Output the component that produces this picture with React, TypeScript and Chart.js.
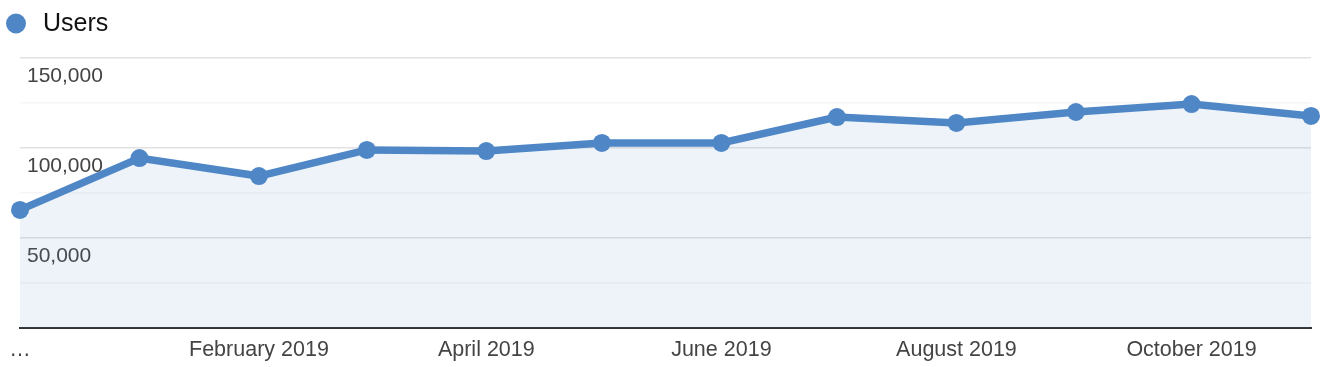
import React, { useEffect, useRef } from "react";
import { Chart, registerables } from "chart.js";

Chart.register(...registerables);

const months = [
  "December 2018",
  "January 2019",
  "February 2019",
  "March 2019",
  "April 2019",
  "May 2019",
  "June 2019",
  "July 2019",
  "August 2019",
  "September 2019",
  "October 2019",
  "November 2019",
];

// first-of-month dates, [year, monthIndex]
const monthStarts: [number, number][] = [
  [2018, 11], [2019, 0], [2019, 1], [2019, 2], [2019, 3], [2019, 4],
  [2019, 5], [2019, 6], [2019, 7], [2019, 8], [2019, 9], [2019, 10],
];

const users = [65600, 94400, 84400, 98900, 98300, 102800, 102800, 117200, 113900, 120000, 124400, 117800];

const seriesLabel = "Users";
const yTickValues = [50000, 100000, 150000];

const LINE = "#4f87c6";
const FILL = "rgba(79,135,198,0.1)";
const FONT = "'Liberation Sans', Arial, sans-serif";

const DAY = 86400000;
const base = Date.UTC(monthStarts[0][0], monthStarts[0][1], 1);
const dayPos = monthStarts.map(([y, m]) => Math.round((Date.UTC(y, m, 1) - base) / DAY));

const legendPlugin = {
  id: "customLegend",
  afterDraw(chart: any) {
    const ctx = chart.ctx;
    const ds = chart.data.datasets[0];
    ctx.save();
    ctx.fillStyle = LINE;
    ctx.beginPath();
    ctx.arc(16, 23.5, 10, 0, Math.PI * 2);
    ctx.fill();
    ctx.fillStyle = "#111";
    ctx.font = `25px ${FONT}`;
    ctx.textBaseline = "middle";
    ctx.textAlign = "left";
    ctx.fillText(ds.label, 43, 24);
    ctx.restore();
  },
};

export default function App() {
  const ref = useRef<HTMLCanvasElement | null>(null);

  useEffect(() => {
    if (!ref.current) return;
    const chart = new Chart(ref.current, {
      type: "line",
      data: {
        datasets: [
          {
            label: seriesLabel,
            data: users.map((v, i) => ({ x: dayPos[i], y: v })),
            borderColor: LINE,
            backgroundColor: FILL,
            fill: "start",
            borderWidth: 7.5,
            pointRadius: 9,
            pointBackgroundColor: LINE,
            pointBorderColor: LINE,
            pointBorderWidth: 0,
            tension: 0,
            clip: false as any,
          },
        ],
      },
      options: {
        animation: false,
        responsive: true,
        maintainAspectRatio: false,
        layout: { padding: { top: 58, left: 20, right: 13, bottom: 0 } },
        plugins: {
          legend: { display: false },
          tooltip: { enabled: false },
        },
        scales: {
          x: {
            type: "linear",
            min: dayPos[0],
            max: dayPos[dayPos.length - 1],
            grid: { display: false, drawTicks: false },
            border: { display: true, color: "#333", width: 2 },
            afterBuildTicks: (s: any) => {
              s.ticks = dayPos.filter((_, i) => i % 2 === 0).map((v) => ({ value: v }));
            },
            ticks: {
              autoSkip: false,
              maxRotation: 0,
              minRotation: 0,
              padding: 9,
              color: "#444",
              font: { family: FONT, size: 21.5 },
              callback: (v: any) => {
                const i = dayPos.indexOf(Number(v));
                if (i === 0) return "…";
                return i > 0 ? months[i] : "";
              },
            },
            afterFit: (s: any) => {
              s.height = 39;
            },
          },
          y: {
            min: 0,
            max: 150000,
            border: { display: false },
            grid: {
              drawTicks: false,
              color: (c: any) =>
                c.tick && c.tick.value % 50000 === 0 ? "#e2e2e2" : "#f6f6f6",
              lineWidth: 1.5,
            },
            ticks: {
              stepSize: 25000,
              autoSkip: false,
              mirror: true,
              padding: 7,
              labelOffset: 18,
              color: "#444",
              font: { family: FONT, size: 21 },
              callback: (v: any) =>
                yTickValues.includes(Number(v)) ? Number(v).toLocaleString("en-US") : "",
            },
            afterFit: (s: any) => {
              s.width = 0;
            },
          },
        },
      },
      plugins: [legendPlugin],
    });
    return () => chart.destroy();
  }, []);

  return (
    <div style={{ position: "absolute", left: 0, top: 0, width: 1324, height: 367, background: "#fff" }}>
      <canvas ref={ref} />
    </div>
  );
}
